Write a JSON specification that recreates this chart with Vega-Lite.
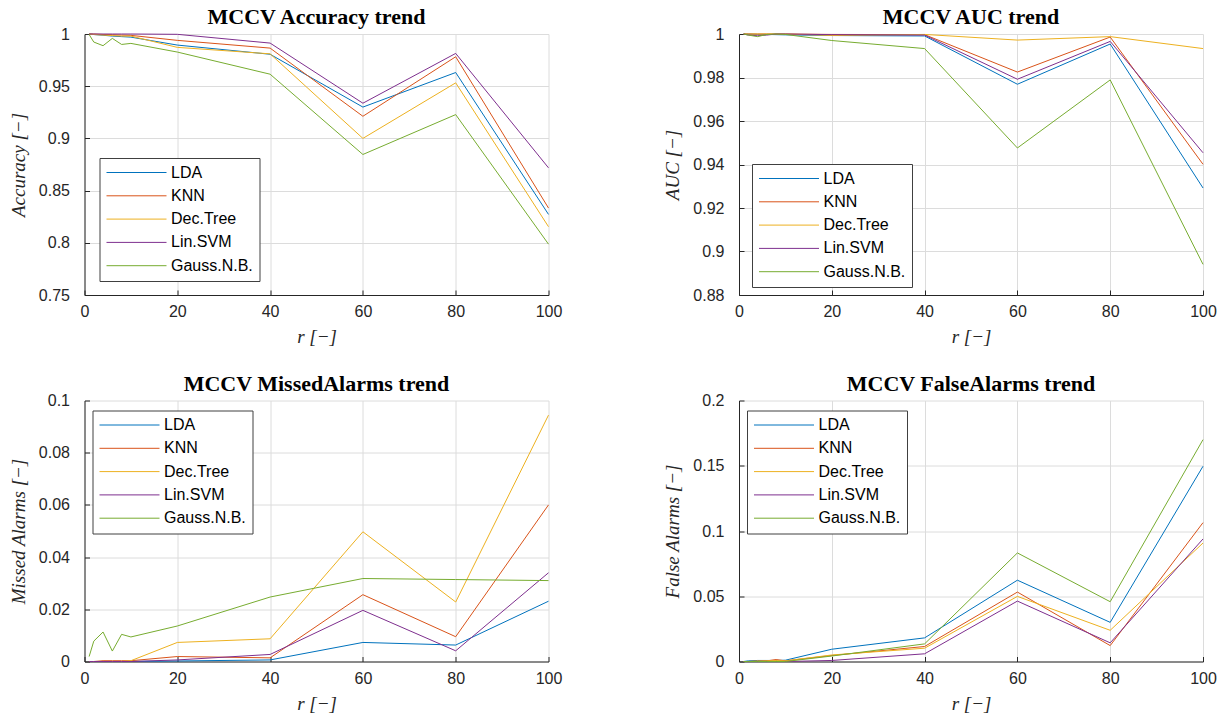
{
  "$schema": "https://vega.github.io/schema/vega-lite/v6.json",
  "background": "white",
  "padding": {"left": 8.5, "top": 6, "right": 5, "bottom": 5},
  "datasets": {
    "acc": [
      {"model": "LDA", "r": 1, "value": 1.0}, {"model": "LDA", "r": 2, "value": 0.9995}, {"model": "LDA", "r": 4, "value": 0.9988}, {"model": "LDA", "r": 6, "value": 0.998}, {"model": "LDA", "r": 8, "value": 0.9975}, {"model": "LDA", "r": 10, "value": 0.997}, {"model": "LDA", "r": 20, "value": 0.9894}, {"model": "LDA", "r": 40, "value": 0.9806}, {"model": "LDA", "r": 60, "value": 0.930}, {"model": "LDA", "r": 80, "value": 0.9631}, {"model": "LDA", "r": 100, "value": 0.8272},
      {"model": "KNN", "r": 1, "value": 1.0}, {"model": "KNN", "r": 2, "value": 1.0}, {"model": "KNN", "r": 4, "value": 0.9995}, {"model": "KNN", "r": 6, "value": 0.9993}, {"model": "KNN", "r": 8, "value": 0.999}, {"model": "KNN", "r": 10, "value": 0.9987}, {"model": "KNN", "r": 20, "value": 0.9939}, {"model": "KNN", "r": 40, "value": 0.9865}, {"model": "KNN", "r": 60, "value": 0.9212}, {"model": "KNN", "r": 80, "value": 0.9782}, {"model": "KNN", "r": 100, "value": 0.8333},
      {"model": "Dec.Tree", "r": 1, "value": 1.0}, {"model": "Dec.Tree", "r": 2, "value": 0.9995}, {"model": "Dec.Tree", "r": 4, "value": 0.999}, {"model": "Dec.Tree", "r": 6, "value": 0.9985}, {"model": "Dec.Tree", "r": 8, "value": 0.998}, {"model": "Dec.Tree", "r": 10, "value": 0.998}, {"model": "Dec.Tree", "r": 20, "value": 0.9872}, {"model": "Dec.Tree", "r": 40, "value": 0.981}, {"model": "Dec.Tree", "r": 60, "value": 0.900}, {"model": "Dec.Tree", "r": 80, "value": 0.9532}, {"model": "Dec.Tree", "r": 100, "value": 0.8154},
      {"model": "Lin.SVM", "r": 1, "value": 1.0}, {"model": "Lin.SVM", "r": 2, "value": 1.0}, {"model": "Lin.SVM", "r": 4, "value": 1.0}, {"model": "Lin.SVM", "r": 6, "value": 1.0}, {"model": "Lin.SVM", "r": 8, "value": 1.0}, {"model": "Lin.SVM", "r": 10, "value": 1.0}, {"model": "Lin.SVM", "r": 20, "value": 0.9997}, {"model": "Lin.SVM", "r": 40, "value": 0.9913}, {"model": "Lin.SVM", "r": 60, "value": 0.9337}, {"model": "Lin.SVM", "r": 80, "value": 0.9814}, {"model": "Lin.SVM", "r": 100, "value": 0.8718},
      {"model": "Gauss.N.B.", "r": 1, "value": 0.9995}, {"model": "Gauss.N.B.", "r": 2, "value": 0.9923}, {"model": "Gauss.N.B.", "r": 4, "value": 0.9888}, {"model": "Gauss.N.B.", "r": 6, "value": 0.9958}, {"model": "Gauss.N.B.", "r": 8, "value": 0.990}, {"model": "Gauss.N.B.", "r": 10, "value": 0.991}, {"model": "Gauss.N.B.", "r": 20, "value": 0.9827}, {"model": "Gauss.N.B.", "r": 40, "value": 0.9615}, {"model": "Gauss.N.B.", "r": 60, "value": 0.8846}, {"model": "Gauss.N.B.", "r": 80, "value": 0.9228}, {"model": "Gauss.N.B.", "r": 100, "value": 0.7987}
    ],
    "auc": [
      {"model": "LDA", "r": 1, "value": 1.0}, {"model": "LDA", "r": 2, "value": 1.0}, {"model": "LDA", "r": 4, "value": 0.9998}, {"model": "LDA", "r": 6, "value": 0.9998}, {"model": "LDA", "r": 8, "value": 0.9997}, {"model": "LDA", "r": 10, "value": 0.9996}, {"model": "LDA", "r": 20, "value": 0.9993}, {"model": "LDA", "r": 40, "value": 0.9991}, {"model": "LDA", "r": 60, "value": 0.9769}, {"model": "LDA", "r": 80, "value": 0.9954}, {"model": "LDA", "r": 100, "value": 0.9292},
      {"model": "KNN", "r": 1, "value": 1.0}, {"model": "KNN", "r": 2, "value": 1.0}, {"model": "KNN", "r": 4, "value": 1.0}, {"model": "KNN", "r": 6, "value": 1.0}, {"model": "KNN", "r": 8, "value": 1.0}, {"model": "KNN", "r": 10, "value": 1.0}, {"model": "KNN", "r": 20, "value": 0.9998}, {"model": "KNN", "r": 40, "value": 0.9997}, {"model": "KNN", "r": 60, "value": 0.9825}, {"model": "KNN", "r": 80, "value": 0.9986}, {"model": "KNN", "r": 100, "value": 0.9401},
      {"model": "Dec.Tree", "r": 1, "value": 1.0}, {"model": "Dec.Tree", "r": 2, "value": 1.0}, {"model": "Dec.Tree", "r": 4, "value": 1.0}, {"model": "Dec.Tree", "r": 6, "value": 1.0}, {"model": "Dec.Tree", "r": 8, "value": 1.0}, {"model": "Dec.Tree", "r": 10, "value": 1.0}, {"model": "Dec.Tree", "r": 20, "value": 0.9993}, {"model": "Dec.Tree", "r": 40, "value": 0.9998}, {"model": "Dec.Tree", "r": 60, "value": 0.9972}, {"model": "Dec.Tree", "r": 80, "value": 0.9988}, {"model": "Dec.Tree", "r": 100, "value": 0.9933},
      {"model": "Lin.SVM", "r": 1, "value": 1.0}, {"model": "Lin.SVM", "r": 2, "value": 0.9995}, {"model": "Lin.SVM", "r": 4, "value": 0.9992}, {"model": "Lin.SVM", "r": 6, "value": 0.9995}, {"model": "Lin.SVM", "r": 8, "value": 1.0}, {"model": "Lin.SVM", "r": 10, "value": 1.0}, {"model": "Lin.SVM", "r": 20, "value": 0.9997}, {"model": "Lin.SVM", "r": 40, "value": 0.9995}, {"model": "Lin.SVM", "r": 60, "value": 0.9792}, {"model": "Lin.SVM", "r": 80, "value": 0.9966}, {"model": "Lin.SVM", "r": 100, "value": 0.9454},
      {"model": "Gauss.N.B.", "r": 1, "value": 1.0}, {"model": "Gauss.N.B.", "r": 2, "value": 0.9995}, {"model": "Gauss.N.B.", "r": 4, "value": 0.9988}, {"model": "Gauss.N.B.", "r": 6, "value": 0.9998}, {"model": "Gauss.N.B.", "r": 8, "value": 1.0}, {"model": "Gauss.N.B.", "r": 10, "value": 0.9998}, {"model": "Gauss.N.B.", "r": 20, "value": 0.997}, {"model": "Gauss.N.B.", "r": 40, "value": 0.9933}, {"model": "Gauss.N.B.", "r": 60, "value": 0.9476}, {"model": "Gauss.N.B.", "r": 80, "value": 0.9789}, {"model": "Gauss.N.B.", "r": 100, "value": 0.8941}
    ],
    "missed": [
      {"model": "LDA", "r": 1, "value": 0}, {"model": "LDA", "r": 2, "value": 0}, {"model": "LDA", "r": 4, "value": 0}, {"model": "LDA", "r": 6, "value": 0}, {"model": "LDA", "r": 8, "value": 0}, {"model": "LDA", "r": 10, "value": 0}, {"model": "LDA", "r": 20, "value": 0.0002}, {"model": "LDA", "r": 40, "value": 0.0006}, {"model": "LDA", "r": 60, "value": 0.0073}, {"model": "LDA", "r": 80, "value": 0.0063}, {"model": "LDA", "r": 100, "value": 0.0231},
      {"model": "KNN", "r": 1, "value": 0}, {"model": "KNN", "r": 2, "value": 0}, {"model": "KNN", "r": 4, "value": 0.0003}, {"model": "KNN", "r": 6, "value": 0.0003}, {"model": "KNN", "r": 8, "value": 0.0003}, {"model": "KNN", "r": 10, "value": 0.0003}, {"model": "KNN", "r": 20, "value": 0.0019}, {"model": "KNN", "r": 40, "value": 0.0014}, {"model": "KNN", "r": 60, "value": 0.0256}, {"model": "KNN", "r": 80, "value": 0.0095}, {"model": "KNN", "r": 100, "value": 0.060},
      {"model": "Dec.Tree", "r": 1, "value": 0}, {"model": "Dec.Tree", "r": 2, "value": 0}, {"model": "Dec.Tree", "r": 4, "value": 0}, {"model": "Dec.Tree", "r": 6, "value": 0}, {"model": "Dec.Tree", "r": 8, "value": 0}, {"model": "Dec.Tree", "r": 10, "value": 0.0003}, {"model": "Dec.Tree", "r": 20, "value": 0.0073}, {"model": "Dec.Tree", "r": 40, "value": 0.0087}, {"model": "Dec.Tree", "r": 60, "value": 0.0497}, {"model": "Dec.Tree", "r": 80, "value": 0.0228}, {"model": "Dec.Tree", "r": 100, "value": 0.0944},
      {"model": "Lin.SVM", "r": 1, "value": 0}, {"model": "Lin.SVM", "r": 2, "value": 0}, {"model": "Lin.SVM", "r": 4, "value": 0}, {"model": "Lin.SVM", "r": 6, "value": 0}, {"model": "Lin.SVM", "r": 8, "value": 0}, {"model": "Lin.SVM", "r": 10, "value": 0}, {"model": "Lin.SVM", "r": 20, "value": 0.0006}, {"model": "Lin.SVM", "r": 40, "value": 0.0027}, {"model": "Lin.SVM", "r": 60, "value": 0.0196}, {"model": "Lin.SVM", "r": 80, "value": 0.0041}, {"model": "Lin.SVM", "r": 100, "value": 0.034},
      {"model": "Gauss.N.B.", "r": 1, "value": 0.0019}, {"model": "Gauss.N.B.", "r": 2, "value": 0.0078}, {"model": "Gauss.N.B.", "r": 4, "value": 0.0113}, {"model": "Gauss.N.B.", "r": 6, "value": 0.004}, {"model": "Gauss.N.B.", "r": 8, "value": 0.0104}, {"model": "Gauss.N.B.", "r": 10, "value": 0.0094}, {"model": "Gauss.N.B.", "r": 20, "value": 0.0136}, {"model": "Gauss.N.B.", "r": 40, "value": 0.0247}, {"model": "Gauss.N.B.", "r": 60, "value": 0.0318}, {"model": "Gauss.N.B.", "r": 80, "value": 0.0314}, {"model": "Gauss.N.B.", "r": 100, "value": 0.031}
    ],
    "false": [
      {"model": "LDA", "r": 1, "value": 0}, {"model": "LDA", "r": 2, "value": 0.0005}, {"model": "LDA", "r": 4, "value": 0.0008}, {"model": "LDA", "r": 6, "value": 0.0008}, {"model": "LDA", "r": 8, "value": 0.0008}, {"model": "LDA", "r": 10, "value": 0.001}, {"model": "LDA", "r": 20, "value": 0.0094}, {"model": "LDA", "r": 40, "value": 0.0181}, {"model": "LDA", "r": 60, "value": 0.0623}, {"model": "LDA", "r": 80, "value": 0.030}, {"model": "LDA", "r": 100, "value": 0.1496},
      {"model": "KNN", "r": 1, "value": 0}, {"model": "KNN", "r": 2, "value": 0}, {"model": "KNN", "r": 4, "value": 0.0003}, {"model": "KNN", "r": 6, "value": 0.0005}, {"model": "KNN", "r": 8, "value": 0.0015}, {"model": "KNN", "r": 10, "value": 0.0005}, {"model": "KNN", "r": 20, "value": 0.0046}, {"model": "KNN", "r": 40, "value": 0.0115}, {"model": "KNN", "r": 60, "value": 0.0532}, {"model": "KNN", "r": 80, "value": 0.0122}, {"model": "KNN", "r": 100, "value": 0.1064},
      {"model": "Dec.Tree", "r": 1, "value": 0}, {"model": "Dec.Tree", "r": 2, "value": 0}, {"model": "Dec.Tree", "r": 4, "value": 0.0003}, {"model": "Dec.Tree", "r": 6, "value": 0.0005}, {"model": "Dec.Tree", "r": 8, "value": 0.0008}, {"model": "Dec.Tree", "r": 10, "value": 0.0005}, {"model": "Dec.Tree", "r": 20, "value": 0.005}, {"model": "Dec.Tree", "r": 40, "value": 0.0102}, {"model": "Dec.Tree", "r": 60, "value": 0.0499}, {"model": "Dec.Tree", "r": 80, "value": 0.0239}, {"model": "Dec.Tree", "r": 100, "value": 0.0908},
      {"model": "Lin.SVM", "r": 1, "value": 0}, {"model": "Lin.SVM", "r": 2, "value": 0}, {"model": "Lin.SVM", "r": 4, "value": 0}, {"model": "Lin.SVM", "r": 6, "value": 0}, {"model": "Lin.SVM", "r": 8, "value": 0}, {"model": "Lin.SVM", "r": 10, "value": 0}, {"model": "Lin.SVM", "r": 20, "value": 0.0008}, {"model": "Lin.SVM", "r": 40, "value": 0.0059}, {"model": "Lin.SVM", "r": 60, "value": 0.0463}, {"model": "Lin.SVM", "r": 80, "value": 0.0143}, {"model": "Lin.SVM", "r": 100, "value": 0.0939},
      {"model": "Gauss.N.B.", "r": 1, "value": 0}, {"model": "Gauss.N.B.", "r": 2, "value": 0}, {"model": "Gauss.N.B.", "r": 4, "value": 0}, {"model": "Gauss.N.B.", "r": 6, "value": 0}, {"model": "Gauss.N.B.", "r": 8, "value": 0}, {"model": "Gauss.N.B.", "r": 10, "value": 0}, {"model": "Gauss.N.B.", "r": 20, "value": 0.0042}, {"model": "Gauss.N.B.", "r": 40, "value": 0.0135}, {"model": "Gauss.N.B.", "r": 60, "value": 0.0832}, {"model": "Gauss.N.B.", "r": 80, "value": 0.0458}, {"model": "Gauss.N.B.", "r": 100, "value": 0.170}
    ]
  },
  "config": {
    "view": {"stroke": null},
    "axis": {
      "domainColor": "#262626", "domainWidth": 1,
      "tickColor": "#262626", "tickSize": -5, "tickWidth": 1,
      "gridColor": "#dcdcdc", "gridWidth": 1,
      "labelFont": "Liberation Sans", "labelFontSize": 16, "labelColor": "#262626",
      "labelFlush": false, "labelOverlap": false,
      "titleFont": "Liberation Serif", "titleFontStyle": "italic", "titleFontWeight": "normal", "titleFontSize": 19, "titleColor": "#262626"
    },
    "axisX": {"labelPadding": 13.5, "titlePadding": 8},
    "axisY": {"labelPadding": 20, "titlePadding": 10, "labelBaseline": "middle"},
    "title": {"font": "Liberation Serif", "fontSize": 22, "fontWeight": "bold", "color": "#000000", "offset": -3, "baseline": "alphabetic"},
    "legend": {
      "symbolType": "stroke", "symbolSize": 3600, "symbolStrokeWidth": 1, "clipHeight": 16,
      "labelFont": "Liberation Sans", "labelFontSize": 16, "labelColor": "#000000", "labelOffset": 4,
      "rowPadding": 7.3, "padding": 6.5, "strokeColor": "#404040", "fillColor": "white", "strokeWidth": 1
    }
  },
  "resolve": {"scale": {"color": "independent", "x": "independent", "y": "independent"}, "legend": {"color": "independent"}},
  "spacing": 25.5,
  "vconcat": [
    {
      "spacing": 100.5,
      "resolve": {"scale": {"color": "independent", "x": "independent", "y": "independent"}, "legend": {"color": "independent"}},
      "hconcat": [
        {
          "width": 464, "height": 261,
          "title": "MCCV Accuracy trend",
          "data": {"name": "acc"},
          "mark": {"type": "line", "strokeWidth": 1},
          "encoding": {
            "x": {"field": "r", "type": "quantitative", "scale": {"domain": [0, 100], "nice": false}, "axis": {"values": [0, 20, 40, 60, 80, 100], "title": "r [−]"}},
            "y": {"field": "value", "type": "quantitative", "scale": {"domain": [0.75, 1], "nice": false, "zero": false}, "axis": {"values": [0.75, 0.8, 0.85, 0.9, 0.95, 1], "format": "~g", "title": "Accuracy [−]"}},
            "color": {"field": "model", "type": "nominal", "sort": null, "scale": {"domain": ["LDA", "KNN", "Dec.Tree", "Lin.SVM", "Gauss.N.B."], "range": ["#0072BD", "#D95319", "#EDB120", "#7E2F8E", "#77AC30"]}, "legend": {"orient": "none", "legendX": 15, "legendY": 124, "title": null}}
          }
        },
        {
          "width": 464, "height": 261,
          "title": "MCCV AUC trend",
          "data": {"name": "auc"},
          "mark": {"type": "line", "strokeWidth": 1},
          "encoding": {
            "x": {"field": "r", "type": "quantitative", "scale": {"domain": [0, 100], "nice": false}, "axis": {"values": [0, 20, 40, 60, 80, 100], "title": "r [−]"}},
            "y": {"field": "value", "type": "quantitative", "scale": {"domain": [0.88, 1], "nice": false, "zero": false}, "axis": {"values": [0.88, 0.9, 0.92, 0.94, 0.96, 0.98, 1], "format": "~g", "title": "AUC [−]"}},
            "color": {"field": "model", "type": "nominal", "sort": null, "scale": {"domain": ["LDA", "KNN", "Dec.Tree", "Lin.SVM", "Gauss.N.B."], "range": ["#0072BD", "#D95319", "#EDB120", "#7E2F8E", "#77AC30"]}, "legend": {"orient": "none", "legendX": 13, "legendY": 130, "title": null}}
          }
        }
      ]
    },
    {
      "spacing": 100.5,
      "resolve": {"scale": {"color": "independent", "x": "independent", "y": "independent"}, "legend": {"color": "independent"}},
      "hconcat": [
        {
          "width": 464, "height": 261,
          "title": "MCCV MissedAlarms trend",
          "data": {"name": "missed"},
          "mark": {"type": "line", "strokeWidth": 1},
          "encoding": {
            "x": {"field": "r", "type": "quantitative", "scale": {"domain": [0, 100], "nice": false}, "axis": {"values": [0, 20, 40, 60, 80, 100], "title": "r [−]"}},
            "y": {"field": "value", "type": "quantitative", "scale": {"domain": [0, 0.1], "nice": false}, "axis": {"values": [0, 0.02, 0.04, 0.06, 0.08, 0.1], "format": "~g", "title": "Missed Alarms [−]"}},
            "color": {"field": "model", "type": "nominal", "sort": null, "scale": {"domain": ["LDA", "KNN", "Dec.Tree", "Lin.SVM", "Gauss.N.B."], "range": ["#0072BD", "#D95319", "#EDB120", "#7E2F8E", "#77AC30"]}, "legend": {"orient": "none", "legendX": 8, "legendY": 10, "title": null}}
          }
        },
        {
          "width": 464, "height": 261,
          "title": "MCCV FalseAlarms trend",
          "data": {"name": "false"},
          "mark": {"type": "line", "strokeWidth": 1},
          "encoding": {
            "x": {"field": "r", "type": "quantitative", "scale": {"domain": [0, 100], "nice": false}, "axis": {"values": [0, 20, 40, 60, 80, 100], "title": "r [−]"}},
            "y": {"field": "value", "type": "quantitative", "scale": {"domain": [0, 0.2], "nice": false}, "axis": {"values": [0, 0.05, 0.1, 0.15, 0.2], "format": "~g", "title": "False Alarms [−]"}},
            "color": {"field": "model", "type": "nominal", "sort": null, "scale": {"domain": ["LDA", "KNN", "Dec.Tree", "Lin.SVM", "Gauss.N.B."], "range": ["#0072BD", "#D95319", "#EDB120", "#7E2F8E", "#77AC30"]}, "legend": {"orient": "none", "legendX": 8, "legendY": 10, "title": null}}
          }
        }
      ]
    }
  ]
}
